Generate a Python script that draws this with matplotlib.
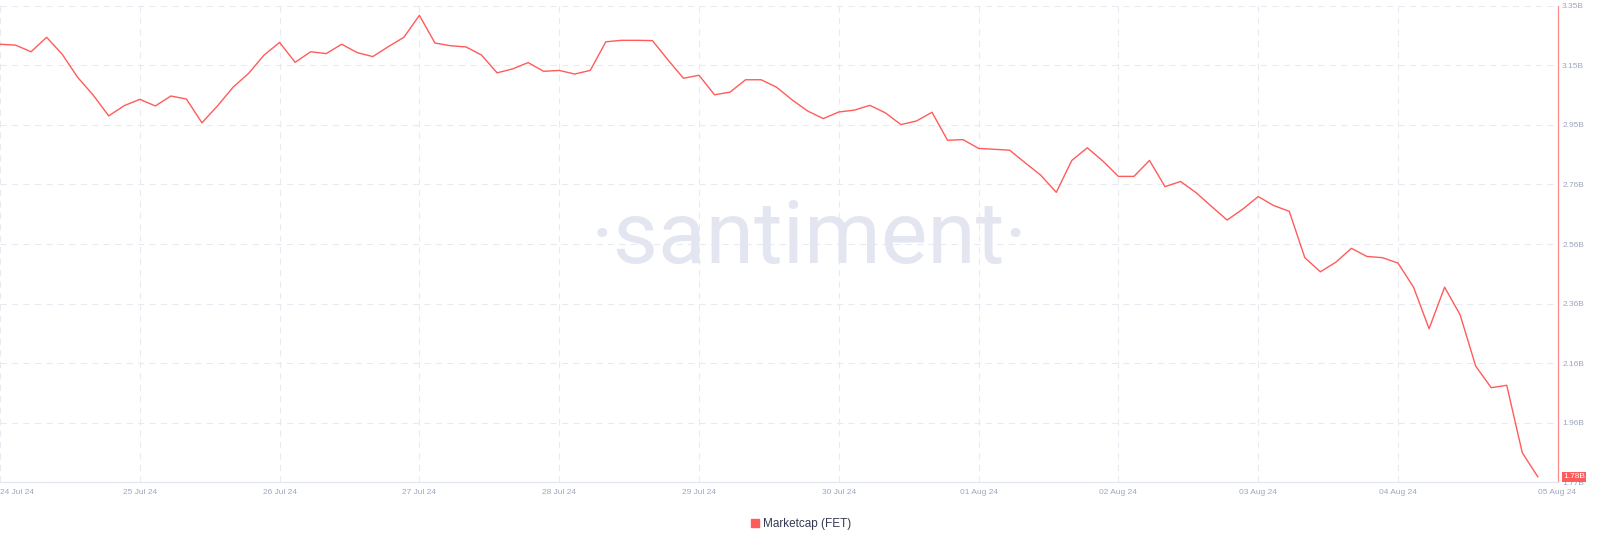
import numpy as np
import pandas as pd
import matplotlib
matplotlib.use("Agg")
from matplotlib import pyplot as plt
from matplotlib import dates as mdates
from matplotlib.lines import Line2D
from matplotlib.ticker import FuncFormatter

# 3-hourly marketcap of FET, in billions of USD
timestamps = pd.date_range("2024-07-24 03:00", periods=100, freq="3h")
marketcap = [
    3.222, 3.219, 3.197, 3.245, 3.189, 3.112, 3.053, 2.984, 3.018, 3.039,
    3.017, 3.050, 3.040, 2.961, 3.017, 3.079, 3.125, 3.186, 3.228, 3.162,
    3.197, 3.191, 3.222, 3.194, 3.181, 3.214, 3.245, 3.318, 3.226, 3.217,
    3.213, 3.186, 3.127, 3.140, 3.161, 3.132, 3.135, 3.123, 3.135, 3.230,
    3.235, 3.235, 3.234, 3.170, 3.109, 3.119, 3.054, 3.063, 3.104, 3.104,
    3.079, 3.037, 3.000, 2.975, 2.997, 3.003, 3.019, 2.994, 2.955, 2.967,
    2.996, 2.903, 2.905, 2.876, 2.873, 2.870, 2.828, 2.787, 2.730, 2.836,
    2.878, 2.834, 2.783, 2.783, 2.836, 2.749, 2.766, 2.729, 2.683, 2.638,
    2.674, 2.716, 2.686, 2.667, 2.513, 2.466, 2.498, 2.544, 2.517, 2.513,
    2.495, 2.415, 2.277, 2.415, 2.323, 2.153, 2.081, 2.089, 1.865, 1.785,
]
series_name = "Marketcap (FET)"
last_label = "1.78B"
y_min, y_max = 1.7668, 3.35

red = "#ff5b5b"
muted = "#9ea6bf"
grid_c = "#e8eaf2"

fig = plt.figure(figsize=(16, 5.41), dpi=100)
ax = fig.add_axes([0, 58.7 / 541, 1558 / 1600, 476.6 / 541])

# watermark
fig.text(0.506, (541 - 263) / 541, "\u00b7santiment\u00b7", ha="center", va="baseline",
         fontsize=63, color="#e3e6f0", family=["Roboto", "DejaVu Sans"],
         fontweight="normal", zorder=0)

ax.plot(timestamps, marketcap, color=red, lw=1.0, zorder=3)

step = pd.Timedelta(hours=3)
ax.set_xlim(timestamps[0], timestamps[0] + 100.3 * step)
ax.set_ylim(y_min, y_max)

ax.set_xticks(timestamps[::9])
ax.xaxis.set_major_formatter(mdates.DateFormatter("%d %b %y"))
ax.set_yticks(np.linspace(y_min, y_max, 9))
ax.yaxis.set_major_formatter(FuncFormatter(lambda v, p: f"{v:.2f}B"))
ax.yaxis.tick_right()

ax.tick_params(axis="both", length=0, labelsize=6, labelcolor=muted)
ax.tick_params(axis="x", pad=5)
ax.tick_params(axis="y", pad=3)
for lab in ax.get_xticklabels() + ax.get_yticklabels():
    lab.set_family("Liberation Sans")
xlabs = ax.get_xticklabels()
xlabs[0].set_horizontalalignment("left")
xlabs[-1].set_horizontalalignment("left")

ax.grid(True, color=grid_c, lw=0.75, linestyle=(0, (6, 5)))
ax.xaxis.get_gridlines()[-1].set_visible(False)
ax.yaxis.get_gridlines()[0].set_visible(False)

for side in ("left", "top"):
    ax.spines[side].set_visible(False)
ax.spines["bottom"].set_color("#e3e6ef")
ax.spines["bottom"].set_linewidth(0.9)
ax.spines["right"].set_color("#ff8c8c")
ax.spines["right"].set_linewidth(0.9)

# last value badge
ax.annotate(last_label, xy=(1, marketcap[-1]), xycoords=("axes fraction", "data"),
            xytext=(3.5, 0), textcoords="offset points", ha="left", va="center",
            fontsize=6, color="white", family="Liberation Sans", zorder=10,
            bbox=dict(boxstyle="square,pad=0.15", fc=red, ec="none"),
            annotation_clip=False)

handle = Line2D([], [], color=red, marker="s", linestyle="none", markersize=6)
fig.legend([handle], [series_name], loc="center", bbox_to_anchor=(0.5, 0.032),
           frameon=False, handletextpad=0.2, handlelength=1.0,
           prop={"family": "Liberation Sans", "size": 8.5}, labelcolor="#353a52")

fig.savefig("out.png", dpi=100)
